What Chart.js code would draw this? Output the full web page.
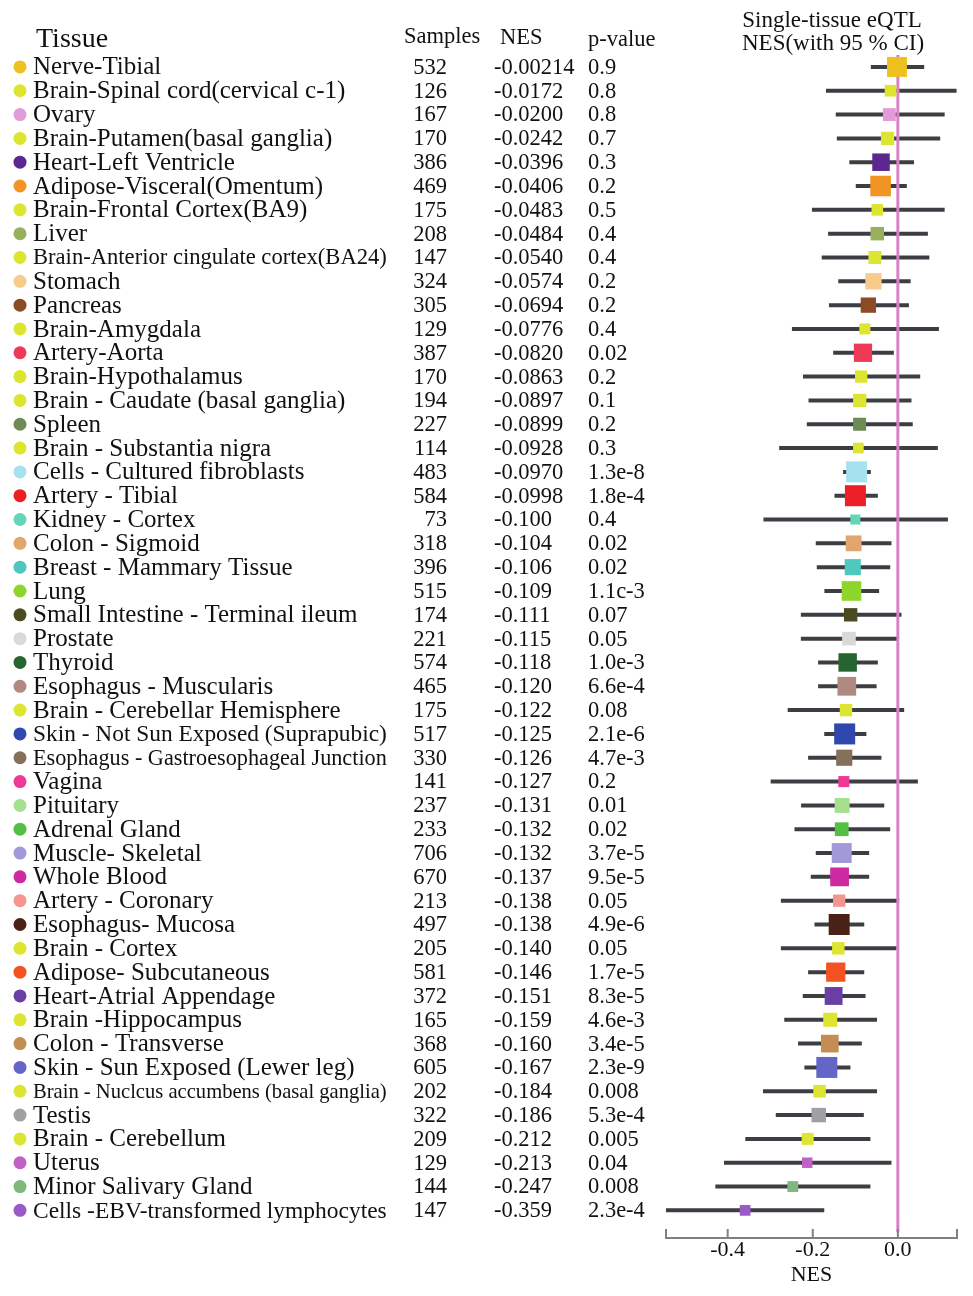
<!DOCTYPE html>
<html><head><meta charset="utf-8">
<script src="https://cdn.jsdelivr.net/npm/chart.js@4"></script>
<style>html,body{margin:0;padding:0;background:#fff;}#wrap{position:relative;width:973px;height:1296px;}</style>
</head><body><div id="wrap"><canvas id="c"></canvas></div>
<script>
const tissues = ["Nerve-Tibial","Brain-Spinal cord(cervical c-1)","Ovary","Brain-Putamen(basal ganglia)","Heart-Left Ventricle","Adipose-Visceral(Omentum)","Brain-Frontal Cortex(BA9)","Liver","Brain-Anterior cingulate cortex(BA24)","Stomach","Pancreas","Brain-Amygdala","Artery-Aorta","Brain-Hypothalamus","Brain - Caudate (basal ganglia)","Spleen","Brain - Substantia nigra","Cells - Cultured fibroblasts","Artery - Tibial","Kidney - Cortex","Colon - Sigmoid","Breast - Mammary Tissue","Lung","Small Intestine - Terminal ileum","Prostate","Thyroid","Esophagus - Muscularis","Brain - Cerebellar Hemisphere","Skin - Not Sun Exposed (Suprapubic)","Esophagus - Gastroesophageal Junction","Vagina","Pituitary","Adrenal Gland","Muscle- Skeletal","Whole Blood","Artery - Coronary","Esophagus- Mucosa","Brain - Cortex","Adipose- Subcutaneous","Heart-Atrial Appendage","Brain -Hippocampus","Colon - Transverse","Skin - Sun Exposed (Lewer leg)","Brain - Nuclcus accumbens (basal ganglia)","Testis","Brain - Cerebellum","Uterus","Minor Salivary Gland","Cells -EBV-transformed lymphocytes"];
const samples = [532,126,167,170,386,469,175,208,147,324,305,129,387,170,194,227,114,483,584,73,318,396,515,174,221,574,465,175,517,330,141,237,233,706,670,213,497,205,581,372,165,368,605,202,322,209,129,144,147];
const nes = ["-0.00214","-0.0172","-0.0200","-0.0242","-0.0396","-0.0406","-0.0483","-0.0484","-0.0540","-0.0574","-0.0694","-0.0776","-0.0820","-0.0863","-0.0897","-0.0899","-0.0928","-0.0970","-0.0998","-0.100","-0.104","-0.106","-0.109","-0.111","-0.115","-0.118","-0.120","-0.122","-0.125","-0.126","-0.127","-0.131","-0.132","-0.132","-0.137","-0.138","-0.138","-0.140","-0.146","-0.151","-0.159","-0.160","-0.167","-0.184","-0.186","-0.212","-0.213","-0.247","-0.359"];
const pValues = ["0.9","0.8","0.8","0.7","0.3","0.2","0.5","0.4","0.4","0.2","0.2","0.4","0.02","0.2","0.1","0.2","0.3","1.3e-8","1.8e-4","0.4","0.02","0.02","1.1c-3","0.07","0.05","1.0e-3","6.6e-4","0.08","2.1e-6","4.7e-3","0.2","0.01","0.02","3.7e-5","9.5e-5","0.05","4.9e-6","0.05","1.7e-5","8.3e-5","4.6e-3","3.4e-5","2.3e-9","0.008","5.3e-4","0.005","0.04","0.008","2.3e-4"];
const ciLow = [-0.0635,-0.169,-0.146,-0.1435,-0.114,-0.099,-0.202,-0.164,-0.179,-0.140,-0.162,-0.249,-0.152,-0.223,-0.210,-0.214,-0.279,-0.1287,-0.149,-0.316,-0.193,-0.1906,-0.1727,-0.228,-0.228,-0.1875,-0.1875,-0.259,-0.173,-0.211,-0.299,-0.2275,-0.243,-0.193,-0.2047,-0.275,-0.196,-0.275,-0.211,-0.2235,-0.267,-0.2346,-0.2197,-0.317,-0.287,-0.3586,-0.4087,-0.429,-0.545];
const ciHigh = [0.0619,0.138,0.110,0.0995,0.038,0.021,0.110,0.0706,0.074,0.030,0.026,0.0965,-0.0094,0.0525,0.032,0.035,0.094,-0.0635,-0.047,0.1176,-0.015,-0.018,-0.044,0.0085,0.0,-0.047,-0.050,0.0148,-0.074,-0.0386,0.047,-0.032,-0.018,-0.0675,-0.0675,0.003,-0.079,-0.003,-0.079,-0.076,-0.049,-0.0847,-0.1115,-0.049,-0.080,-0.0645,-0.015,-0.0645,-0.173];
const xTickValues = [-0.4,-0.2,0.0];

const BR = "#DCE530";
const tissueColors = ["#EEC11F",BR,"#E29BD6",BR,"#5B2690","#F29325",BR,"#98B05C",BR,"#F6CB8C","#8C4A25",BR,"#EE3A58",BR,BR,"#6E8A55",BR,"#A6E2EE","#EC1F27","#63D5B9","#E2A66C","#4FC7BE","#8DD42B","#4B4B22","#D9D9D9","#26652F","#B08A80",BR,"#3047AE","#86705B","#EE3A96","#A5E08E","#53C045","#A09BD8","#CC29A3","#F49590","#4A2117",BR,"#F55224","#6A3FA5",BR,"#C48D52","#6366C6",BR,"#A0A0A3",BR,"#C061C6","#7FB87D","#9A59C9"];

const nesNum = nes.map(Number);
const FONT = "'Liberation Serif','Times New Roman',serif";
const TXT = "#111";
const yMin = -0.5, yMax = 49.16, zeroLineEnd = 48.92;

const ciData = [];
tissues.forEach((t,i)=>{ ciData.push({x:ciLow[i],y:i},{x:ciHigh[i],y:i},{x:null,y:null}); });
const boxSide = i => Math.min(21, 6 + 1.75/(ciHigh[i]-ciLow[i]));

const tablePlugin = {
  id:'table',
  afterDraw(chart){
    const ctx = chart.ctx, ys = chart.scales.y, xs = chart.scales.x;
    ctx.save();
    ctx.strokeStyle = '#808080'; ctx.lineWidth = 2;
    const b = chart.chartArea.bottom;
    [xs.min, ...xTickValues, xs.max].forEach(v=>{
      const px = xs.getPixelForValue(v);
      ctx.beginPath(); ctx.moveTo(px, b); ctx.lineTo(px, b-9); ctx.stroke();
    });
    ctx.fillStyle = TXT; ctx.textBaseline = 'middle';
    ctx.textAlign = 'left';
    ctx.font = "28px " + FONT; ctx.fillText("Tissue", 36, 40);
    ctx.font = "22.5px " + FONT;
    ctx.fillText("Samples", 404, 37);
    ctx.fillText("NES", 500, 38);
    ctx.fillText("p-value", 588, 40);
    ctx.textAlign = 'center';
    ctx.font = "23px " + FONT;
    ctx.fillText("Single-tissue eQTL", 832, 21);
    ctx.fillText("NES(with 95 % CI)", 833, 44);
    tissues.forEach((t,i)=>{
      const y = ys.getPixelForValue(i);
      ctx.fillStyle = tissueColors[i];
      ctx.beginPath(); ctx.arc(20, y, 6.5, 0, Math.PI*2); ctx.fill();
      ctx.fillStyle = TXT;
      ctx.textAlign = 'left';
      let fs = 25;
      ctx.font = fs + "px " + FONT;
      const w = ctx.measureText(t).width;
      if (w > 352) { fs = fs*354/w; ctx.font = fs + "px " + FONT; }
      ctx.fillText(t, 33, y + 1);
      ctx.font = "22.5px " + FONT;
      ctx.textAlign = 'right'; ctx.fillText(String(samples[i]), 447, y + 1);
      ctx.textAlign = 'left'; ctx.fillText(nes[i], 494, y + 1);
      ctx.fillText(pValues[i], 588, y + 1);
    });
    ctx.restore();
  }
};

new Chart(document.getElementById('c'), {
  data:{
    datasets:[
      {type:'line', data:ciData, borderColor:'#3D3E43', borderWidth:4, borderCapStyle:'butt', pointRadius:0, spanGaps:false, order:3},
      {type:'line', data:[{x:0,y:yMin},{x:0,y:zeroLineEnd}], borderColor:'#D880C8', borderWidth:3, pointRadius:0, order:2},
      {type:'scatter', data:nesNum.map((v,i)=>({x:v,y:i})), pointStyle:'rect',
        pointRadius: c => boxSide(c.dataIndex)/Math.SQRT2, pointHoverRadius: c => boxSide(c.dataIndex)/Math.SQRT2,
        backgroundColor:tissueColors, borderColor:tissueColors, borderWidth:0, order:1}
    ]
  },
  options:{
    responsive:true, maintainAspectRatio:false, animation:false,
    layout:{padding:{left:666, right:16, top:55, bottom:10}},
    plugins:{legend:{display:false}, tooltip:{enabled:false}},
    scales:{
      x:{type:'linear', min:-0.545, max:0.139,
        afterBuildTicks: s => { s.ticks = [s.min, ...xTickValues, s.max].map(v=>({value:v})); },
        ticks:{autoSkip:false, maxRotation:0, padding:1, color:TXT, font:{family:FONT, size:22, lineHeight:1},
          callback: v => xTickValues.includes(v) ? v.toFixed(1) : ''},
        grid:{drawOnChartArea:false, drawTicks:false},
        border:{display:true, color:'#808080', width:2},
        title:{display:true, text:'NES', color:TXT, font:{family:FONT, size:22, lineHeight:1}, padding:{top:2,bottom:0}}
      },
      y:{type:'linear', display:false, reverse:true, min:yMin, max:yMax}
    }
  },
  plugins:[tablePlugin]
});
</script></body></html>
